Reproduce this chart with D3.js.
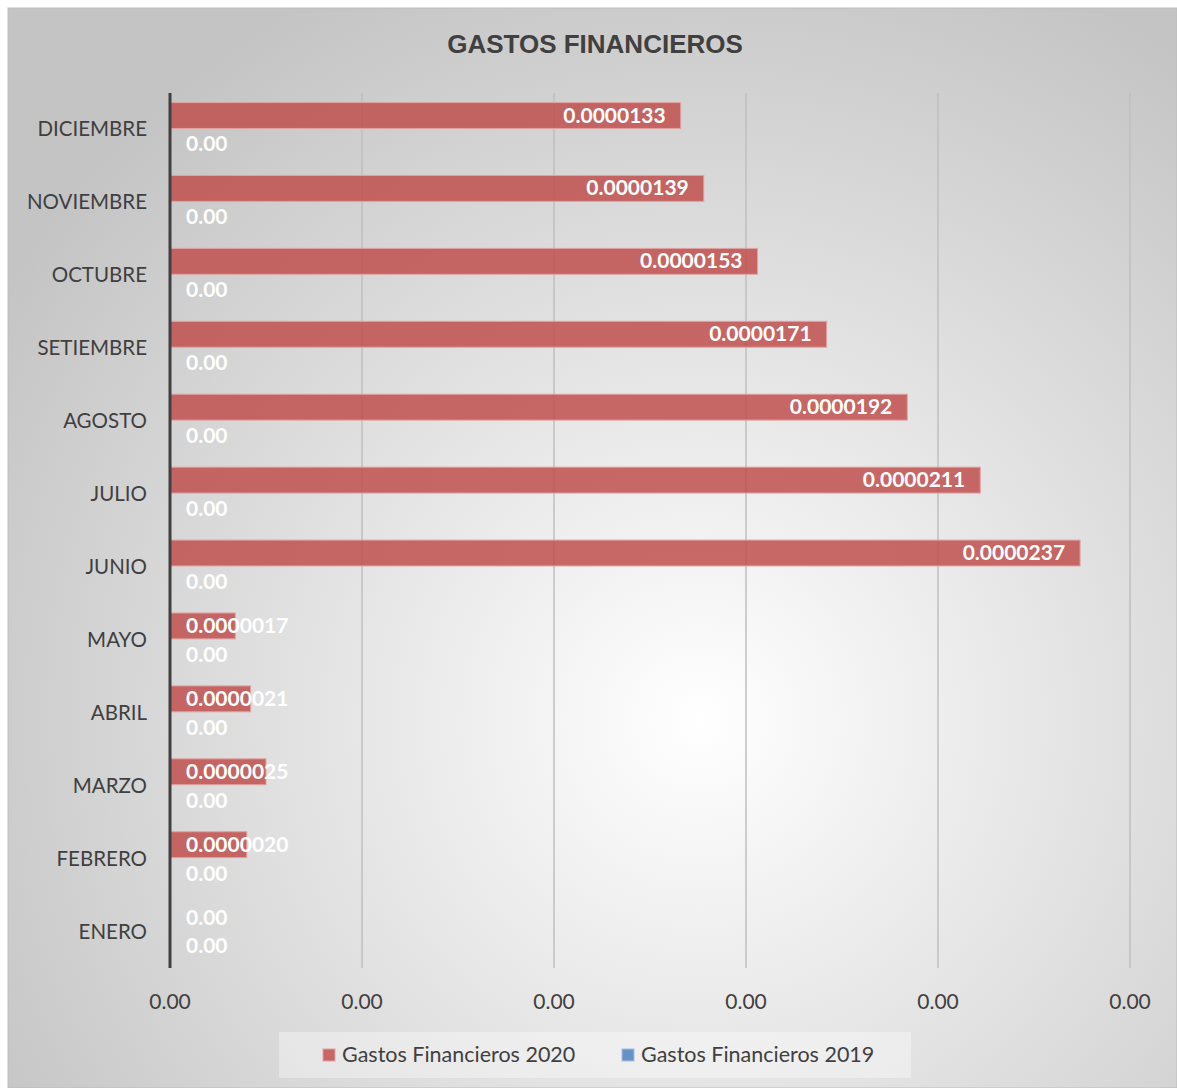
<!DOCTYPE html>
<html>
<head>
<meta charset="utf-8">
<script src="https://cdn.jsdelivr.net/npm/d3@7"></script>
<style>
  body { margin: 0; background: #fff; }
  svg text { font-family: Lato, "Open Sans", sans-serif; }
</style>
</head>
<body>
<svg id="chart"></svg>
<script>
// Data
const months = ["ENERO", "FEBRERO", "MARZO", "ABRIL", "MAYO", "JUNIO",
  "JULIO", "AGOSTO", "SETIEMBRE", "OCTUBRE", "NOVIEMBRE", "DICIEMBRE"];
const gastos2020 = [0, 0.0000020, 0.0000025, 0.0000021, 0.0000017, 0.0000237,
  0.0000211, 0.0000192, 0.0000171, 0.0000153, 0.0000139, 0.0000133];
const gastos2019 = [0, 0, 0, 0, 0, 0, 0, 0, 0, 0, 0, 0];
const xTicks = [0, 0.000005, 0.00001, 0.000015, 0.00002, 0.000025];
const seriesNames = ["Gastos Financieros 2020", "Gastos Financieros 2019"];
const seriesColors = ["#c0504d", "#4f81bd"];

const W = 1177, H = 1088;
const margin = { top: 93, right: 47, bottom: 120, left: 170 };

const svg = d3.select("#chart").attr("width", W).attr("height", H);

// Background with radial gradient
const defs = svg.append("defs");
const grad = defs.append("radialGradient")
  .attr("id", "bg")
  .attr("gradientUnits", "userSpaceOnUse")
  .attr("cx", 700).attr("cy", 720).attr("r", 820);
grad.append("stop").attr("offset", "0%").attr("stop-color", "#ffffff");
grad.append("stop").attr("offset", "100%").attr("stop-color", "#c4c4c4");

svg.append("rect")
  .attr("x", 8).attr("y", 8)
  .attr("width", W - 8).attr("height", H - 8)
  .attr("fill", "url(#bg)")
  .attr("stroke", "#bdbdbd");

// Title
svg.append("text")
  .attr("x", 595).attr("y", 53)
  .attr("text-anchor", "middle")
  .style("font-family", "'Liberation Sans', Arial, sans-serif")
  .attr("font-size", "26px")
  .attr("font-weight", "bold")
  .attr("fill", "#404040")
  .text("GASTOS FINANCIEROS");

// Scales
const x = d3.scaleLinear()
  .domain([0, 0.000025])
  .range([margin.left, W - margin.right]);

const y = d3.scaleBand()
  .domain(months.slice().reverse())
  .range([margin.top, H - margin.bottom])
  .paddingInner(0.29)
  .paddingOuter(0.145);

const sub = d3.scaleBand()
  .domain([0, 1])
  .range([0, y.bandwidth()]);

// Gridlines
svg.append("g")
  .selectAll("line")
  .data(xTicks.slice(1))
  .enter()
  .append("line")
  .attr("x1", d => x(d)).attr("x2", d => x(d))
  .attr("y1", margin.top).attr("y2", H - margin.bottom)
  .attr("stroke", "#bfbfbf")
  .attr("stroke-width", 1.5);

// Tick labels
svg.append("g")
  .selectAll("text")
  .data(xTicks)
  .enter()
  .append("text")
  .attr("x", d => x(d))
  .attr("y", H - margin.bottom + 41)
  .attr("text-anchor", "middle")
  .attr("font-size", "21px")
  .attr("fill", "#404040")
  .text(d => d3.format(".2f")(d));

// Bars
const series = [gastos2020, gastos2019];
series.forEach((vals, si) => {
  svg.append("g")
    .selectAll("rect")
    .data(vals)
    .enter()
    .append("rect")
    .attr("x", x(0))
    .attr("y", (d, i) => y(months[i]) + sub(si) - 1)
    .attr("width", d => x(d) - x(0))
    .attr("height", sub.bandwidth())
    .attr("fill", seriesColors[si])
    .attr("fill-opacity", 0.85)
    .attr("stroke", d => d > 0 ? "#e0a3a1" : "none")
    .attr("stroke-width", 1);
});

// Data labels
series.forEach((vals, si) => {
  svg.append("g")
    .selectAll("text")
    .data(vals)
    .enter()
    .append("text")
    .attr("y", (d, i) => y(months[i]) + sub(si) + sub.bandwidth() / 2 + (si === 0 ? 6 : 9))
    .attr("text-anchor", "end")
    .attr("font-size", "21px")
    .attr("font-weight", "bold")
    .attr("fill", "#ffffff")
    .text(d => si === 0 && d > 0 ? d.toFixed(7) : "0.00")
    .attr("x", function (d) {
      const w = this.getComputedTextLength();
      return Math.max(x(d) - 15, x(0) + 16 + w);
    });
});

// Left axis line
svg.append("line")
  .attr("x1", x(0)).attr("x2", x(0))
  .attr("y1", margin.top).attr("y2", H - margin.bottom)
  .attr("stroke", "#404040")
  .attr("stroke-width", 3);

// Category labels
svg.append("g")
  .selectAll("text")
  .data(months)
  .enter()
  .append("text")
  .attr("x", margin.left - 23)
  .attr("y", d => y(d) + y.bandwidth() / 2 + 7)
  .attr("text-anchor", "end")
  .attr("font-size", "20.5px")
  .attr("fill", "#404040")
  .text(d => d);

// Legend
const legend = svg.append("g");
legend.append("rect")
  .attr("x", 279).attr("y", 1032)
  .attr("width", 632).attr("height", 46)
  .attr("fill", "#ffffff")
  .attr("fill-opacity", 0.35);

const legendX = [323, 622];
seriesNames.forEach((name, i) => {
  legend.append("rect")
    .attr("x", legendX[i]).attr("y", 1049)
    .attr("width", 12).attr("height", 12)
    .attr("fill", seriesColors[i])
    .attr("fill-opacity", 0.85)
    .attr("stroke", i === 0 ? "#e0a3a1" : "#a7c0de");
  legend.append("text")
    .attr("x", legendX[i] + 19).attr("y", 1062)
    .attr("font-size", "21.5px")
    .attr("fill", "#404040")
    .text(name);
});
</script>
</body>
</html>
